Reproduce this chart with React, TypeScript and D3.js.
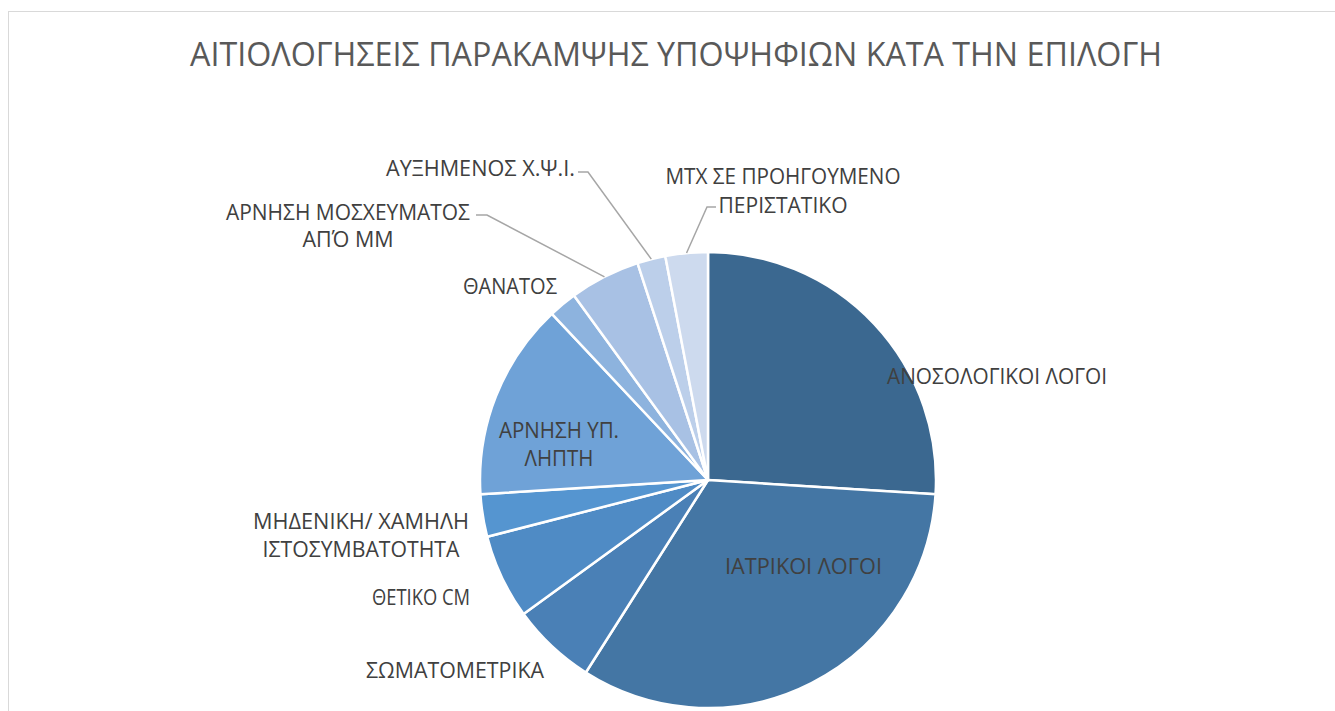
import React from "react";
import * as d3 from "d3";

const categories = [
  "ΑΝΟΣΟΛΟΓΙΚΟΙ ΛΟΓΟΙ",
  "ΙΑΤΡΙΚΟΙ ΛΟΓΟΙ",
  "ΣΩΜΑΤΟΜΕΤΡΙΚΑ",
  "ΘΕΤΙΚΟ CM",
  "ΜΗΔΕΝΙΚΗ/ ΧΑΜΗΛΗ ΙΣΤΟΣΥΜΒΑΤΟΤΗΤΑ",
  "ΑΡΝΗΣΗ ΥΠ. ΛΗΠΤΗ",
  "ΘΑΝΑΤΟΣ",
  "ΑΡΝΗΣΗ ΜΟΣΧΕΥΜΑΤΟΣ ΑΠΌ ΜΜ",
  "ΑΥΞΗΜΕΝΟΣ Χ.Ψ.Ι.",
  "ΜΤΧ ΣΕ ΠΡΟΗΓΟΥΜΕΝΟ ΠΕΡΙΣΤΑΤΙΚΟ",
];
const values = [26, 33, 6, 6, 3, 14, 2, 5, 2, 3];
const colors = [
  "#3b6890",
  "#4476a4",
  "#4a80b6",
  "#4f8bc5",
  "#5595d0",
  "#6fa2d7",
  "#8db3de",
  "#a8c1e4",
  "#bccfea",
  "#cddaee",
];
const title = "ΑΙΤΙΟΛΟΓΗΣΕΙΣ ΠΑΡΑΚΑΜΨΗΣ ΥΠΟΨΗΦΙΩΝ ΚΑΤΑ ΤΗΝ ΕΠΙΛΟΓΗ";

// label layout (line texts, centre x, centre y of each line, width of each line, leader start)
const labelLayout = [
  { lines: ["ΑΝΟΣΟΛΟΓΙΚΟΙ ΛΟΓΟΙ"], cx: 997, cy: [376], w: [220] },
  { lines: ["ΙΑΤΡΙΚΟΙ ΛΟΓΟΙ"], cx: 803.5, cy: [566], w: [157] },
  { lines: ["ΣΩΜΑΤΟΜΕΤΡΙΚΑ"], cx: 455, cy: [670], w: [178] },
  { lines: ["ΘΕΤΙΚΟ CM"], cx: 421, cy: [597], w: [98] },
  { lines: ["ΜΗΔΕΝΙΚΗ/ ΧΑΜΗΛΗ", "ΙΣΤΟΣΥΜΒΑΤΟΤΗΤΑ"], cx: 361, cy: [521, 549], w: [216, 197] },
  { lines: ["ΑΡΝΗΣΗ ΥΠ.", "ΛΗΠΤΗ"], cx: 559, cy: [430, 458], w: [120, 69] },
  { lines: ["ΘΑΝΑΤΟΣ"], cx: 510, cy: [286], w: [94] },
  { lines: ["ΑΡΝΗΣΗ ΜΟΣΧΕΥΜΑΤΟΣ", "ΑΠΌ ΜΜ"], cx: 348, cy: [212, 239], w: [244, 91], leader: [[476, 215], [487, 215]] },
  { lines: ["ΑΥΞΗΜΕΝΟΣ Χ.Ψ.Ι."], cx: 480.5, cy: [168], w: [189], leader: [[578, 172], [588, 172]] },
  { lines: ["ΜΤΧ ΣΕ ΠΡΟΗΓΟΥΜΕΝΟ", "ΠΕΡΙΣΤΑΤΙΚΟ"], cx: 783, cy: [176, 205], w: [235, 129], leader: [[716, 207], [707, 207]] },
];

const W = 1335;
const H = 711;
const CX = 708;
const CY = 480;
const R = 228;

export default function App() {
  const pie = d3
    .pie<number>()
    .sort(null)
    .value((d) => d)
    .startAngle(0)
    .endAngle(2 * Math.PI);
  const arcs = pie(values);
  const arcGen = d3.arc<d3.PieArcDatum<number>>().innerRadius(0).outerRadius(R);
  const font = "'Open Sans', 'Noto Sans', sans-serif";

  return (
    <svg
      width={W}
      height={H}
      style={{ position: "absolute", left: 0, top: 0, background: "#fff" }}
    >
      <rect x={8.5} y={11.5} width={W + 20} height={H + 20} fill="#fff" stroke="#d9d9d9" strokeWidth={1} />
      <text
        x={676}
        y={66}
        textAnchor="middle"
        fontFamily={font}
        fontSize={32}
        fill="#595959"
        textLength={972}
        lengthAdjust="spacingAndGlyphs"
      >
        {title}
      </text>
      <g transform={`translate(${CX},${CY})`}>
        {arcs.map((a, i) => (
          <path key={categories[i]} d={arcGen(a) || ""} fill={colors[i]} stroke="#fff" strokeWidth={2.5} strokeLinejoin="round" />
        ))}
      </g>
      {arcs.map((a, i) => {
        const lay = labelLayout[i];
        if (!lay.leader) return null;
        const mid = (a.startAngle + a.endAngle) / 2;
        const ex = CX + R * Math.sin(mid);
        const ey = CY - R * Math.cos(mid);
        const [p0, p1] = lay.leader;
        return (
          <polyline
            key={"l" + i}
            points={`${p0[0]},${p0[1]} ${p1[0]},${p1[1]} ${ex},${ey}`}
            fill="none"
            stroke="#a6a6a6"
            strokeWidth={1.5}
          />
        );
      })}
      {labelLayout.map((lay, i) =>
        lay.lines.map((line, j) => (
          <text
            key={i + "-" + j}
            x={lay.cx}
            y={lay.cy[j] + 8}
            textAnchor="middle"
            fontFamily={font}
            fontSize={21}
            fill="#404040"
            textLength={lay.w[j]}
            lengthAdjust="spacingAndGlyphs"
          >
            {line}
          </text>
        ))
      )}
    </svg>
  );
}
